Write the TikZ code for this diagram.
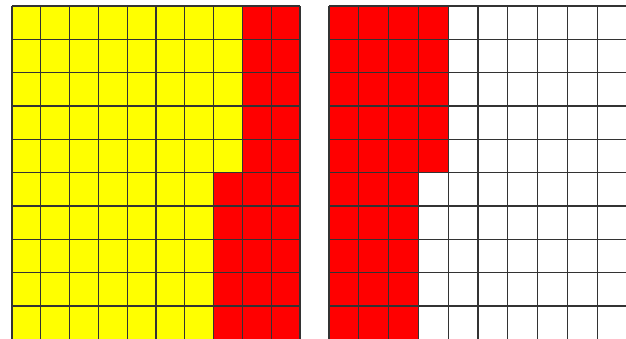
\documentclass[tikz,border=0pt]{standalone}
\usetikzlibrary{positioning}
\definecolor{cellyellow}{RGB}{255,255,0}
\definecolor{cellred}{RGB}{255,0,0}
\begin{document}
\begin{tikzpicture}[x=1pt,y=-1pt,
  gridline/.style={draw=black!80,line width=1.1pt},
  yfill/.style={fill=cellyellow},
  rfill/.style={fill=cellred}]
\useasboundingbox (0,0) rectangle (626,338);
% left grid: 10 x 10 cells
\fill[yfill] (12,6) rectangle (300,339.3);
\fill[rfill] (242.4,6) rectangle (300,172.7);
\fill[rfill] (213.6,172.7) rectangle (300,339.3);
\foreach \i in {0,...,10}{
  \draw[gridline] (12+28.8*\i,6) -- ++(0,333.3);
  \draw[gridline] (12,6+33.33*\i) -- ++(288,0);
}
% right grid: 10 x 10 cells
\fill[rfill] (329,6) rectangle (448.2,172.7);
\fill[rfill] (329,172.7) rectangle (418.4,339.3);
\foreach \i in {0,...,10}{
  \draw[gridline] (329+29.8*\i,6) -- ++(0,333.3);
  \draw[gridline] (329,6+33.33*\i) -- ++(298,0);
}
\end{tikzpicture}
\end{document}
